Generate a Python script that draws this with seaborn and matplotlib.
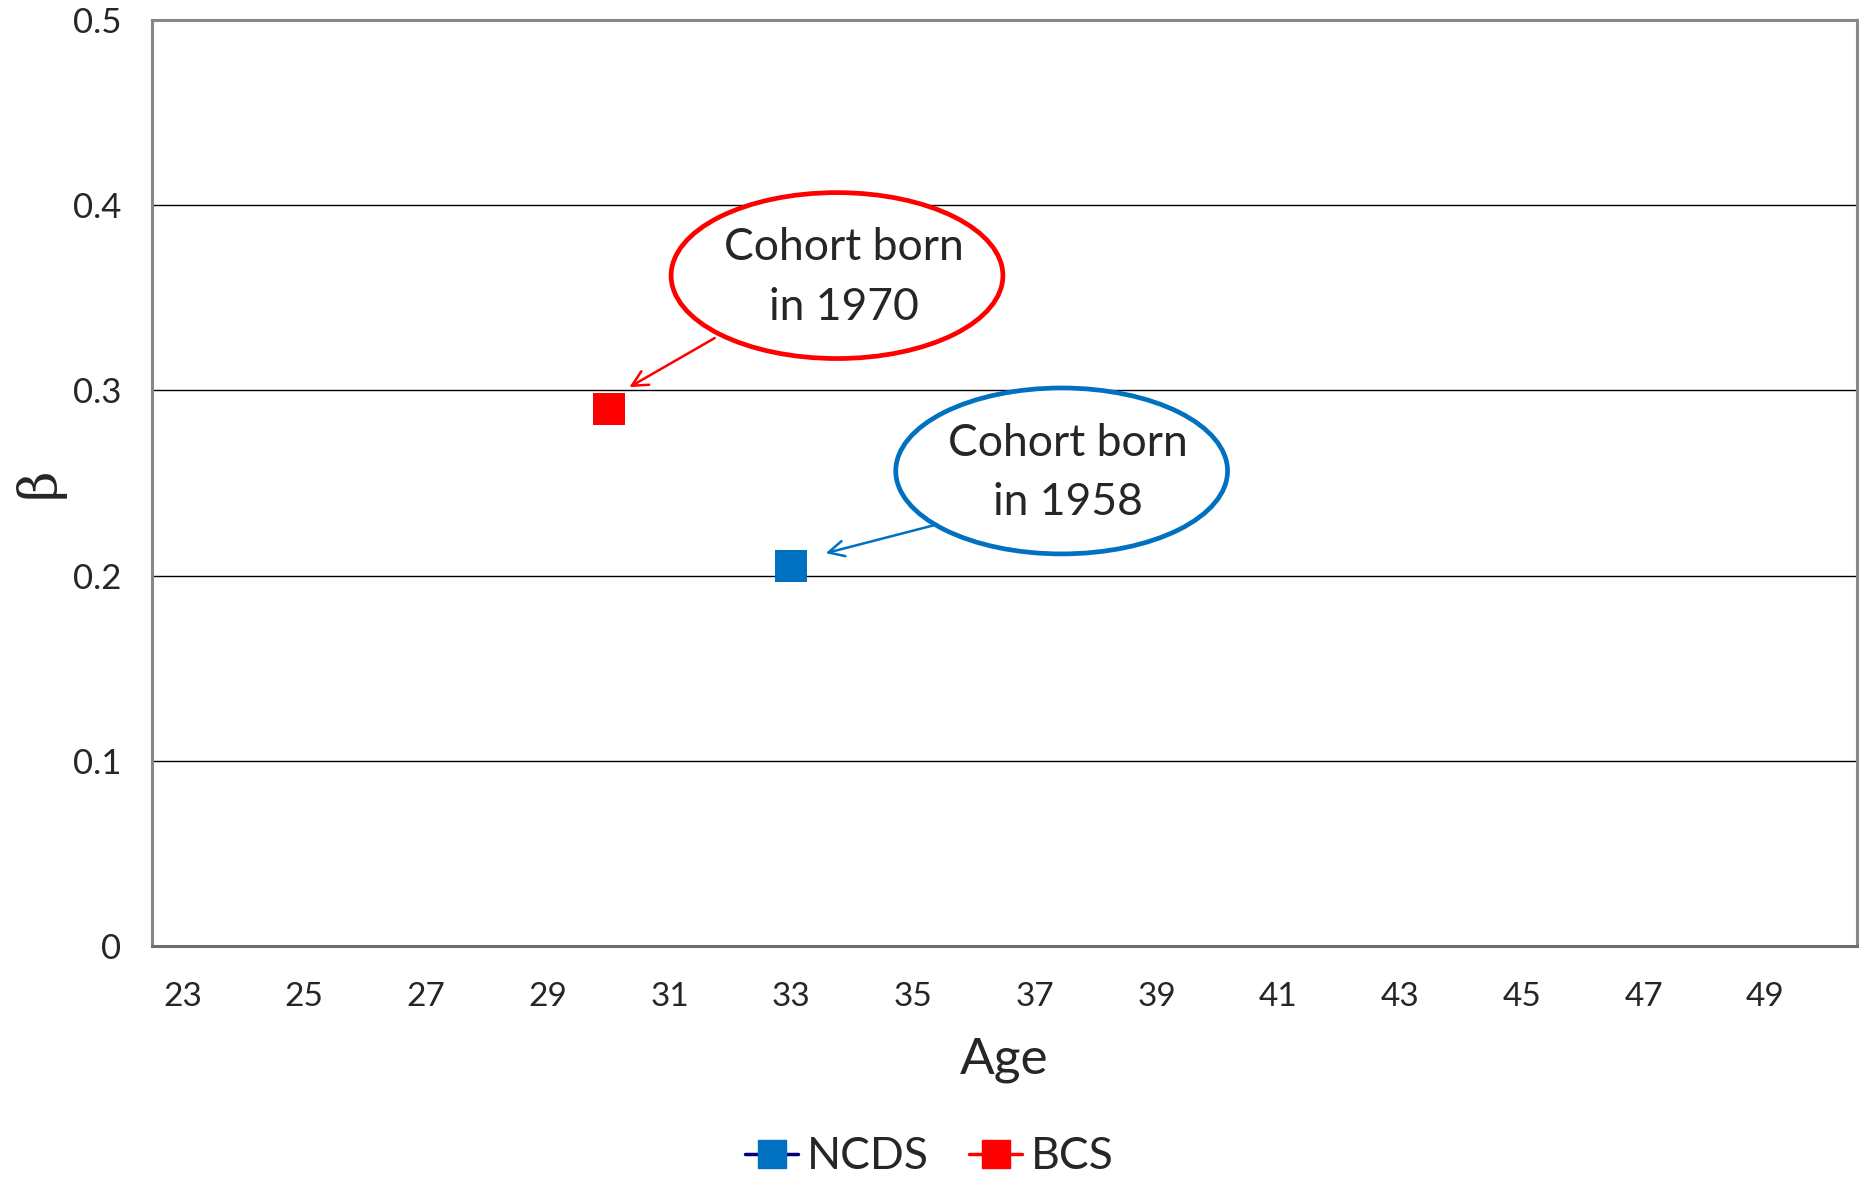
import matplotlib
matplotlib.use("Agg")
import matplotlib.pyplot as plt
import seaborn as sns
import pandas as pd
from matplotlib.patches import Ellipse
from matplotlib.lines import Line2D

# ---- data ----
series = ["NCDS", "BCS"]
ages = [33, 30]
betas = [0.205, 0.29]
colors = ["#0070C0", "#FF0000"]
legend_line_colors = ["#000080", "#FF0000"]
age_categories = list(range(23, 51))
xtick_labels = list(range(23, 50, 2))
ytick_values = [0, 0.1, 0.2, 0.3, 0.4, 0.5]
ytick_labels = ["0", "0.1", "0.2", "0.3", "0.4", "0.5"]
callout_texts = ["Cohort born\nin 1958", "Cohort born\nin 1970"]

sns.set_theme(style="white")
plt.rcParams['font.family'] = ['Lato', 'DejaVu Sans']

fig = plt.figure(figsize=(18.59, 11.78), dpi=100)
ax = fig.add_axes([0.0818, 0.197, 0.917, 0.786])

df = pd.DataFrame({"Age": ages, "beta": betas, "Series": series})
sns.scatterplot(data=df, x="Age", y="beta", hue="Series", palette=dict(zip(series, colors)),
                marker="s", s=520, edgecolor="none", ax=ax, legend=False, zorder=5)

ax.set_xlim(age_categories[0] - 0.5, age_categories[-1] + 0.5)
ax.set_ylim(0, 0.5)
ax.set_xticks(xtick_labels)
ax.set_xticklabels([str(v) for v in xtick_labels], fontsize=24)
ax.set_yticks(ytick_values)
ax.set_yticklabels(ytick_labels, fontsize=25)
ax.tick_params(axis='x', length=0, pad=26)
ax.tick_params(axis='y', length=0, pad=22)
for lab in ax.get_yticklabels():
    lab.set_horizontalalignment('right')

ax.yaxis.grid(True, color="#000000", linewidth=1.0)
ax.set_axisbelow(True)
for side in ["top", "right", "left"]:
    ax.spines[side].set_color("#878787")
    ax.spines[side].set_linewidth(2.2)
ax.spines["bottom"].set_color("#6e6e6e")
ax.spines["bottom"].set_linewidth(2.2)

ax.set_xlabel("Age", fontsize=37, labelpad=18)
ax.set_ylabel("β", fontsize=38, family=["DejaVu Serif"], va="center")
ax.yaxis.set_label_coords(-0.066, 0.5)

# callouts: ellipses with text and arrows
ell_specs = [
    # (center_x, center_y, width, height, color, text_xy, arrow_start, arrow_end)
    (37.44, 0.2565, 5.45, 0.0896, "#0070C0", (37.55, 0.2555), (35.44, 0.228), (33.52, 0.2117)),
    (33.75, 0.3620, 5.45, 0.0896, "#FF0000", (33.86, 0.3610), (31.78, 0.329), (30.30, 0.301)),
]
for (cx, cy, w, h, col, txy, a0, a1), txt in zip(ell_specs, callout_texts):
    ax.add_patch(Ellipse((cx, cy), w, h, facecolor="white", edgecolor=col, linewidth=3.4, zorder=6))
    ax.text(txy[0], txy[1], txt, ha="center", va="center", fontsize=32, linespacing=1.55, zorder=7)
    ax.annotate("", xy=a1, xytext=a0,
                arrowprops=dict(arrowstyle="->", color=col, lw=1.8, mutation_scale=28), zorder=7)

handles = [Line2D([0], [0], color=lc, lw=2.5, marker="s", markersize=20,
                  markerfacecolor=c, markeredgecolor=c)
           for lc, c in zip(legend_line_colors, colors)]
fig.legend(handles, series, loc="center", bbox_to_anchor=(0.5, 0.018), ncol=2, frameon=False,
           fontsize=32, handlelength=1.2, handletextpad=0.2, columnspacing=0.9)

fig.savefig("out.png", dpi=100, facecolor="white")
